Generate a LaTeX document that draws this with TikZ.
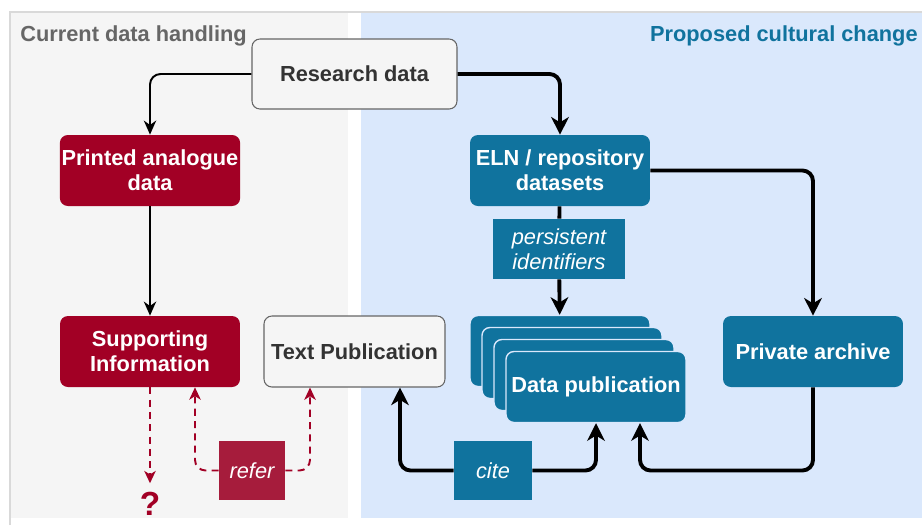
\documentclass[tikz,border=0pt]{standalone}
\usepackage{fontspec}
\setmainfont{Liberation Sans}
\usetikzlibrary{arrows.meta}
\definecolor{panelgray}{HTML}{F5F5F5}
\definecolor{panelblue}{HTML}{DAE8FC}
\definecolor{darkred}{HTML}{A20025}
\definecolor{referred}{HTML}{A61C3C}
\definecolor{petrol}{HTML}{10739E}
\definecolor{textgray}{HTML}{666666}
\begin{document}
\begin{tikzpicture}
[x=0.02cm, y=-0.02cm, font=\fontsize{12.4}{14}\selectfont\bfseries]
\tikzstyle{databox}=[rounded corners=4.5pt, minimum width=3.6cm, minimum height=1.42cm, align=center, inner sep=1pt]
\tikzstyle{redbox}=[databox, fill=darkred, text=white]
\tikzstyle{bluebox}=[databox, fill=petrol, text=white]
\tikzstyle{stackbox}=[bluebox, draw=panelblue, line width=0.8pt]
\tikzstyle{greybox}=[databox, fill=panelgray, draw=textgray, line width=0.6pt, text=black!80]
\tikzstyle{idtag}=[fill=petrol, text=white, font=\fontsize{12.4}{14}\selectfont\mdseries\itshape, align=center, inner sep=0pt]
\tikzstyle{thinflow}=[line width=1.1pt, rounded corners=6pt, -{Stealth[length=8pt, width=7pt, inset=2.5pt]}]
\tikzstyle{flow}=[line width=2.2pt, rounded corners=6pt, -{Stealth[length=10pt, width=10pt, inset=3pt]}]
\tikzstyle{refers}=[darkred, line width=1.1pt, dash pattern=on 4pt off 3pt, rounded corners=6pt, -{Stealth[length=7pt, width=6.5pt, inset=2pt]}]
\useasboundingbox (0,0) rectangle (922,525);
\fill[panelgray] (10,12) rectangle (348,518);
\fill[panelblue] (361,12) rectangle (922,518);
\draw[black!15, line width=0.6pt] (10,525) -- (10,12) -- (922,12);

\node[anchor=west, text=textgray, inner sep=0pt]	(current)	at (20,36)	{Current data handling};
\node[anchor=east, text=petrol, inner sep=0pt]	(proposed)	at (918,36)	{Proposed cultural change};
\node[greybox, minimum width=4.1cm, minimum height=1.4cm]	(raw)	at (354.5,74)	{Research data};
\node[redbox]	(print)	at (150,170.5)	{Printed analogue\\data};
\node[bluebox]	(eln)	at (560,170.5)	{ELN / repository\\datasets};
\node[idtag, minimum width=2.64cm, minimum height=1.2cm]	(pid)	at (559,249)	{persistent\\identifiers};
\node[redbox]	(supp)	at (150,351.5)	{Supporting\\Information};
\node[greybox, minimum width=3.62cm]	(textpub)	at (354.5,351.5)	{Text Publication};
\node[stackbox]	(pub1)	at (560,351)	{};
\node[stackbox]	(pub2)	at (572,363)	{};
\node[stackbox]	(pub3)	at (584,375)	{};
\node[stackbox]	(pub4)	at (596,387)	{Data publication};
\node[bluebox]	(arch)	at (813,351.5)	{Private archive};
\node[idtag, minimum width=1.56cm, minimum height=1.18cm]	(cite)	at (493,470.5)	{cite};
\node[idtag, fill=referred, minimum width=1.32cm, minimum height=1.18cm]	(refer)	at (252,470.5)	{refer};
\node[text=darkred, font=\fontsize{19}{21}\selectfont\bfseries, inner sep=0pt, anchor=north]	(ask)	at (150,492)	{?};

\draw[thinflow]	(raw.west) -| (print.north);
\draw[flow]	(raw.east) -| (eln.north);
\draw[thinflow]	(print) -- (supp);
\draw[line width=2.2pt]	(eln) -- (pid);
\draw[flow]	(pid) -- (pub1);
\draw[flow]	(eln.east) -| (arch.north);
\draw[flow]	(arch.south) -- (arch.south |- cite) -| ([xshift=0.88cm]pub4.south);
\draw[flow]	(cite.east) -| (pub4.south);
\draw[flow]	(cite.west) -| ([xshift=0.91cm]textpub.south);
\draw[refers]	(refer.west) -| ([xshift=0.9cm]supp.south);
\draw[refers]	(refer.east) -| ([xshift=-0.89cm]textpub.south);
\draw[refers, shorten >=5pt]	(supp.south) -- (ask.north);
\end{tikzpicture}
\end{document}
